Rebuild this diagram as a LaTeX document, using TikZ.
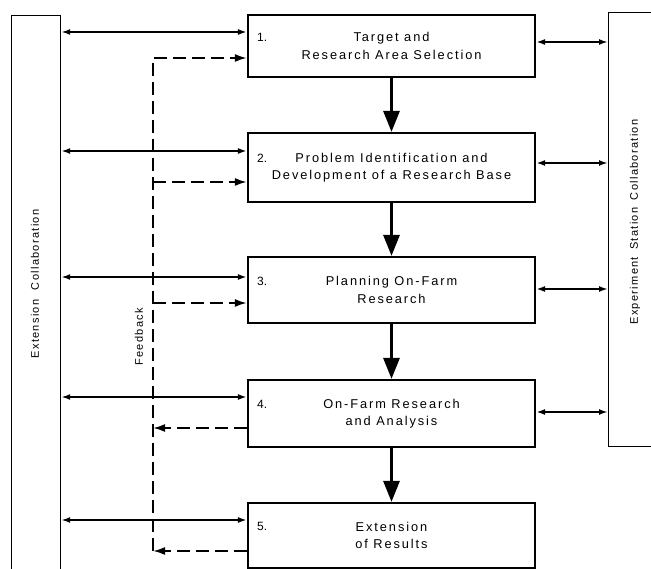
\documentclass[tikz,border=0pt]{standalone}
\usepackage{fontspec}
\setmainfont{Liberation Sans}
\newfontfamily\boxfont[LetterSpace=15]{Liberation Sans}
\newfontfamily\sidefont[LetterSpace=12]{Liberation Sans}
\usetikzlibrary{arrows.meta}
\begin{document}
\begin{tikzpicture}[x=1pt,y=-1pt,
  box/.style={draw, line width=2.2pt, minimum width=287pt, inner sep=0pt,
    font=\boxfont\fontsize{12.8}{17.5}\selectfont, align=center},
  bar/.style={draw, line width=1.2pt, inner sep=0pt},
  num/.style={font=\fontsize{12}{13}\selectfont, anchor=west, inner sep=0pt},
  vlabel/.style={font=\sidefont\fontsize{11}{12}\selectfont, rotate=90, inner sep=0pt},
  link/.style={line width=2pt, {Latex[length=9pt,width=6pt]}-{Latex[length=9pt,width=6pt]}},
  flow/.style={line width=3pt, -{Triangle[length=21pt,width=16pt]}},
  fb/.style={line width=2pt, dash pattern=on 13pt off 6pt, -{Latex[length=12pt,width=8pt]}},
]
\useasboundingbox (0,0) rectangle (651,569);
\fill[white] (0,0) rectangle (651,569);
\clip (0,0) rectangle (651,569);

% side bars
\node[bar, minimum width=49pt, minimum height=600pt, anchor=north west] (lbar) at (11,15) {};
\node[bar, minimum width=60pt, minimum height=434pt, anchor=north west] (rbar) at (608,12) {};
\node[vlabel] (lel) at (35,284) {Extension\hspace{5pt} Collaboration};
\node[vlabel] (rel) at (635,222) {Experiment\hspace{3pt} Station\hspace{3pt} Collaboration};

% boxes
\node[box, minimum height=62pt] (b1) at (391.5,46) {Target and\\Research Area Selection};
\node[box, minimum height=69pt] (b2) at (391.5,167.5) {Problem Identification and\\Development of a Research Base};
\node[box, minimum height=66pt] (b3) at (391.5,290) {Planning On-Farm\\Research};
\node[box, minimum height=67pt] (b4) at (391.5,413.5) {On-Farm Research\\and Analysis};
\node[box, minimum height=65pt] (b5) at (391.5,535.5) {Extension\\of Results};

\node[num] (n1) at ([xshift=10pt,yshift=8.75pt]b1.west) {1.};
\node[num] (n2) at ([xshift=10pt,yshift=8.75pt]b2.west) {2.};
\node[num] (n3) at ([xshift=10pt,yshift=8.75pt]b3.west) {3.};
\node[num] (n4) at ([xshift=10pt,yshift=8.75pt]b4.west) {4.};
\node[num] (n5) at ([xshift=10pt,yshift=8.75pt]b5.west) {5.};

% main flow
\draw[flow] (b1.south) -- (b2.north);
\draw[flow] (b2.south) -- (b3.north);
\draw[flow] (b3.south) -- (b4.north);
\draw[flow] (b4.south) -- (b5.north);

% extension links
\coordinate (y1) at (0,32);
\coordinate (y2) at (0,151);
\coordinate (y3) at (0,277);
\coordinate (y4) at (0,397);
\coordinate (y5) at (0,520);
\draw[link] (lbar.east |- y1) -- (b1.west |- y1);
\draw[link] (lbar.east |- y2) -- (b2.west |- y2);
\draw[link] (lbar.east |- y3) -- (b3.west |- y3);
\draw[link] (lbar.east |- y4) -- (b4.west |- y4);
\draw[link] (lbar.east |- y5) -- (b5.west |- y5);

% experiment station links
\coordinate (r1) at (0,42);
\coordinate (r2) at (0,163);
\coordinate (r3) at (0,289);
\coordinate (r4) at (0,412);
\draw[link] (b1.east |- r1) -- (rbar.west |- r1);
\draw[link] (b2.east |- r2) -- (rbar.west |- r2);
\draw[link] (b3.east |- r3) -- (rbar.west |- r3);
\draw[link] (b4.east |- r4) -- (rbar.west |- r4);

% feedback
\coordinate (ftop) at (153,58);
\coordinate (fbot) at (153,551);
\coordinate (f2) at (153,182);
\coordinate (f3) at (153,303);
\coordinate (f4) at (153,428);
\draw[fb] (fbot) -- (ftop) -- (b1.west |- ftop);
\draw[fb] (b5.west |- fbot) -- (fbot);
\draw[fb] (f2) -- (b2.west |- f2);
\draw[fb] (f3) -- (b3.west |- f3);
\draw[fb] (b4.west |- f4) -- (f4);
\node[vlabel] (fl) at (139,337) {Feedback};
\end{tikzpicture}
\end{document}
